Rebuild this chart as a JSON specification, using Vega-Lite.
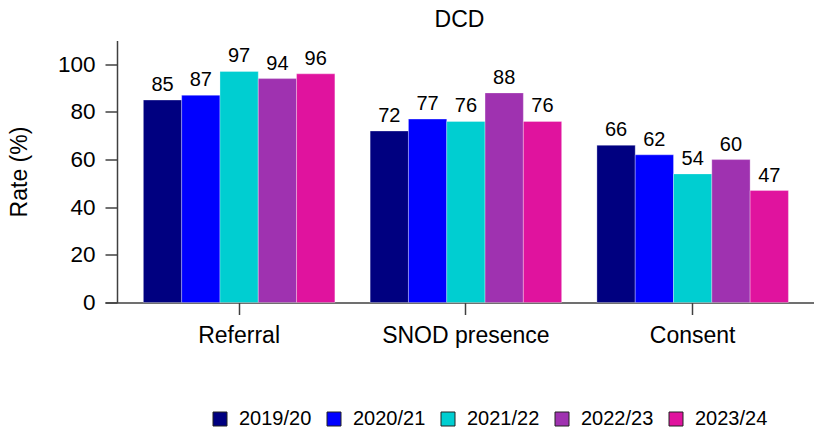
{
  "$schema": "https://vega.github.io/schema/vega-lite/v6.json",
  "width": 709,
  "height": 262,
  "autosize": {"type": "none"},
  "padding": {"left": 105, "top": 40.5, "right": 0, "bottom": 134.5},
  "background": "white",
  "title": {"text": "DCD", "fontSize": 23, "font": "Liberation Sans", "fontWeight": "normal", "color": "black", "offset": 9},
  "data": {"values": [
    {"cat": "Referral", "year": "2019/20", "rate": 85},
    {"cat": "Referral", "year": "2020/21", "rate": 87},
    {"cat": "Referral", "year": "2021/22", "rate": 97},
    {"cat": "Referral", "year": "2022/23", "rate": 94},
    {"cat": "Referral", "year": "2023/24", "rate": 96},
    {"cat": "SNOD presence", "year": "2019/20", "rate": 72},
    {"cat": "SNOD presence", "year": "2020/21", "rate": 77},
    {"cat": "SNOD presence", "year": "2021/22", "rate": 76},
    {"cat": "SNOD presence", "year": "2022/23", "rate": 88},
    {"cat": "SNOD presence", "year": "2023/24", "rate": 76},
    {"cat": "Consent", "year": "2019/20", "rate": 66},
    {"cat": "Consent", "year": "2020/21", "rate": 62},
    {"cat": "Consent", "year": "2021/22", "rate": 54},
    {"cat": "Consent", "year": "2022/23", "rate": 60},
    {"cat": "Consent", "year": "2023/24", "rate": 47}
  ]},
  "encoding": {
    "x": {"field": "cat", "type": "nominal", "sort": ["Referral", "SNOD presence", "Consent"],
      "scale": {"paddingInner": 0.1555, "paddingOuter": 0.141, "align": 0.6},
      "axis": {"title": null, "labelAngle": 0, "labelFontSize": 23, "labelFont": "Liberation Sans", "labelColor": "black",
        "domainColor": "#404040", "domainWidth": 1.5, "tickColor": "#404040", "tickWidth": 1.5, "tickSize": 12, "labelPadding": 10}},
    "xOffset": {"field": "year", "type": "nominal", "scale": {"paddingInner": 0, "paddingOuter": 0}},
    "y": {"field": "rate", "type": "quantitative", "scale": {"domain": [0, 110], "nice": false},
      "axis": {"title": "Rate (%)", "values": [0, 20, 40, 60, 80, 100], "grid": false, "offset": -12,
        "labelFontSize": 22.5, "labelFont": "Liberation Sans", "labelColor": "black", "labelPadding": 10,
        "titleFontSize": 23, "titleFont": "Liberation Sans", "titleFontWeight": "normal", "titleColor": "black", "titlePadding": 26,
        "domainColor": "#404040", "domainWidth": 1.5, "tickColor": "#404040", "tickWidth": 1.5, "tickSize": 12}}
  },
  "layer": [
    {"mark": {"type": "bar", "stroke": "white", "strokeOpacity": 0.3, "strokeWidth": 1},
      "encoding": {
        "color": {"field": "year", "type": "nominal",
          "scale": {"domain": ["2019/20", "2020/21", "2021/22", "2022/23", "2023/24"],
            "range": ["#000080", "#0000FF", "#00CED1", "#9F32B0", "#E0139E"]},
          "legend": {"title": null, "orient": "none", "legendX": 105, "legendY": 368.5, "direction": "horizontal",
            "symbolType": "square", "symbolSize": 196, "symbolStrokeColor": "#222222", "symbolStrokeWidth": 1,
            "labelFontSize": 20, "labelFont": "Liberation Sans", "labelColor": "black", "labelOffset": 9, "columnPadding": 12}}
      }},
    {"mark": {"type": "text", "baseline": "bottom", "dy": -5, "fontSize": 20, "font": "Liberation Sans", "color": "black"},
      "encoding": {"text": {"field": "rate", "type": "quantitative"}}}
  ],
  "config": {"view": {"stroke": null}}
}
